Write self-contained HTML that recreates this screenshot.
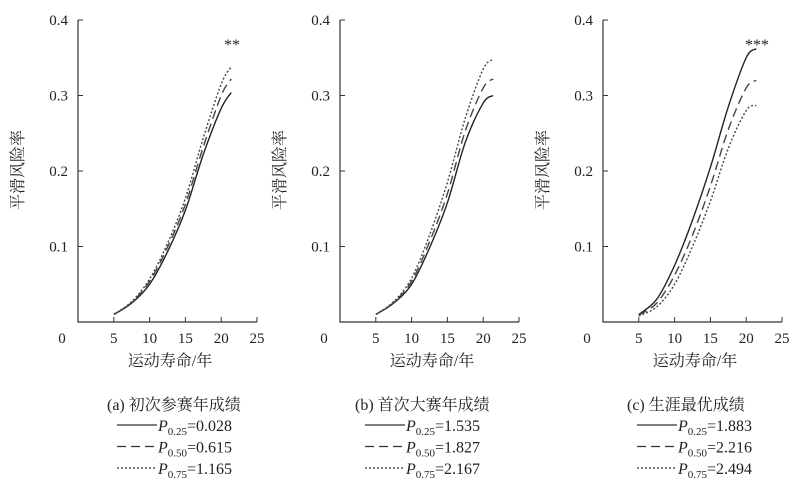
<!DOCTYPE html>
<html><head><meta charset="utf-8"><style>
body{margin:0;background:#fff;}
svg{display:block;font-family:"Liberation Serif","Noto Serif CJK SC","Noto Sans CJK SC",serif;}
</style></head><body>
<svg id="c" width="807" height="484" viewBox="0 0 807 484" xmlns="http://www.w3.org/2000/svg"></svg>
<script>
const xTicks=[5,10,15,20,25];
const yTicks=[0.1,0.2,0.3,0.4];
const years=[5,7.5,10,12.5,15,17.5,20,21.4];
const aSolid=[0.01,0.025,0.05,0.093,0.148,0.222,0.283,0.304];
const aDash=[0.01,0.026,0.054,0.099,0.156,0.232,0.300,0.322];
const aDot=[0.01,0.027,0.057,0.104,0.164,0.244,0.315,0.338];
const bSolid=[0.01,0.025,0.05,0.098,0.158,0.238,0.290,0.300];
const bDash=[0.01,0.026,0.054,0.106,0.170,0.253,0.310,0.322];
const bDot=[0.01,0.027,0.058,0.115,0.185,0.270,0.335,0.348];
const cSolid=[0.01,0.03,0.075,0.135,0.205,0.285,0.350,0.362];
const cDash=[0.009,0.025,0.062,0.115,0.180,0.255,0.310,0.320];
const cDot=[0.008,0.02,0.05,0.100,0.160,0.230,0.280,0.287];
const captions=["(a)  初次参赛年成绩","(b)  首次大赛年成绩","(c)  生涯最优成绩"];
const legVals=[["0.028","0.615","1.165"],["1.535","1.827","2.167"],["1.883","2.216","2.494"]];
const stars=["**","","***"];
const panels=[[aSolid,aDash,aDot],[bSolid,bDash,bDot],[cSolid,cDash,cDot]];
const axisX=[78,340,603];
const legX=[117,365,637];
const NS="http://www.w3.org/2000/svg";
const svg=document.getElementById('c');
function mk(t,a,p){const e=document.createElementNS(NS,t);for(const k in a)e.setAttribute(k,a[k]);(p||svg).appendChild(e);return e;}
const dashes=["","9,5","2,2"];
const subs=["0.25","0.50","0.75"];
panels.forEach((series,pi)=>{
  const ox=axisX[pi], base=322, top=20;
  const sx=v=>ox+v*7.16;
  const sy=v=>base-v*(base-top)/0.4;
  const g=mk('g',{});
  
  
  const ax=mk('path',{d:`M${ox},${top}V${base}H${sx(25)}`,stroke:'#333',fill:'none','stroke-width':1.2},g);
  
  
  xTicks.forEach(t=>{
    mk('line',{x1:sx(t),x2:sx(t),y1:base,y2:base-5,stroke:'#333'},g);
    const tx=mk('text',{x:sx(t),y:base+21,'text-anchor':'middle','font-size':15,fill:'#222'},g);
    tx.textContent=t;
    
    
  });
  const z=mk('text',{x:ox-16,y:base+21,'text-anchor':'middle','font-size':15,fill:'#222'},g);z.textContent='0';
  
  
  yTicks.forEach(t=>{
    mk('line',{x1:ox,x2:ox+5,y1:sy(t),y2:sy(t),stroke:'#333'},g);
    const ty=mk('text',{x:ox-10,y:sy(t)+5,'text-anchor':'end','font-size':15,fill:'#222'},g);
    ty.textContent=t.toFixed(1);
    
    
  });
  const yt=mk('text',{x:0,y:0,transform:`translate(${ox-55},170) rotate(-90)`,'text-anchor':'middle','font-size':16,fill:'#222'},g);
  yt.textContent='平滑风险率';
  
  
  const xt=mk('text',{x:ox+92,y:366,'text-anchor':'middle','font-size':16,fill:'#222'},g);
  xt.textContent='运动寿命/年';
  
  
  series.forEach((vals,si)=>{
    const pts=years.map((y,i)=>[sx(y),sy(vals[i])]);
    let d=`M${pts[0][0]},${pts[0][1]}`;
    for(let i=0;i<pts.length-1;i++){
      const p0=pts[Math.max(0,i-1)],p1=pts[i],p2=pts[i+1],p3=pts[Math.min(pts.length-1,i+2)];
      const c1=[p1[0]+(p2[0]-p0[0])/6,p1[1]+(p2[1]-p0[1])/6];
      const c2=[p2[0]-(p3[0]-p1[0])/6,p2[1]-(p3[1]-p1[1])/6];
      d+=`C${c1[0]},${c1[1]} ${c2[0]},${c2[1]} ${p2[0]},${p2[1]}`;
    }
    const l=mk('path',{d,fill:'none',stroke:si==0?'#222':'#444','stroke-width':1.4,'stroke-dasharray':dashes[si]},g);
    
    
  });
  if(stars[pi]){
    const s=mk('text',{x:sx(21.5),y:50,'text-anchor':'middle','font-size':16,fill:'#222'},g);
    s.textContent=stars[pi];
    
    
  }
  const cap=mk('text',{x:legX[pi]-10,y:410,'font-size':16,fill:'#222'},g);
  cap.textContent=captions[pi];
  
  
  for(let k=0;k<3;k++){
    const yy=425+21.5*k;
    const ln=mk('line',{x1:legX[pi],x2:legX[pi]+40,y1:yy,y2:yy,stroke:'#333','stroke-width':1.3,'stroke-dasharray':dashes[k]},g);
    
    
    const t=mk('text',{x:legX[pi]+41,y:yy+6,'font-size':16,fill:'#222'},g);
    t.innerHTML=`<tspan font-style="italic">P</tspan><tspan font-size="11" dy="4">${subs[k]}</tspan><tspan dy="-4">=${legVals[pi][k]}</tspan>`;
    
    
  }
});
</script>
</body></html>
